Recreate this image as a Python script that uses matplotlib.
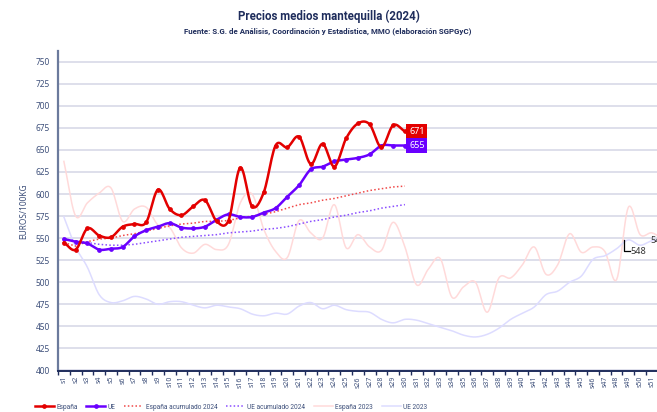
import numpy as np
import matplotlib
matplotlib.use('Agg')
import matplotlib.pyplot as plt
from matplotlib.lines import Line2D

plt.rcParams['font.family'] = ['Noto Sans', 'DejaVu Sans']

# DATA
weeks = ['s%d' % i for i in range(1, 53)]

espana_2024 = [545, 537, 561, 553, 551, 563, 566, 568, 605, 583, 576, 586, 593, 569, 570,
               630, 586, 602, 655, 653, 665, 634, 657, 631, 663, 680, 679, 653, 678, 671]
ue_2024 = [549, 546, 544, 537, 538, 540, 552, 559, 563, 567, 562, 561, 563, 571, 577,
           574, 574, 579, 584, 597, 610, 628, 631, 637, 639, 641, 645, 655, 655, 655]
espana_acum_2024 = [545, 541, 546, 549, 550, 553, 555, 558, 561, 564, 566, 567, 569, 569, 570,
                    573, 575, 577, 580, 584, 588, 590, 593, 595, 598, 601, 604, 606, 608, 609]
ue_acum_2024 = [549, 547, 545, 543, 542, 542, 543, 545, 547, 549, 551, 552, 553, 554, 556,
                557, 558, 560, 561, 563, 566, 569, 571, 574, 576, 579, 581, 584, 586, 588]
espana_2023 = [637, 575, 590, 601, 607, 569, 583, 585, 565, 562, 539, 533, 543, 537, 543,
               590, 600, 560, 535, 528, 570, 556, 550, 588, 539, 554, 540, 536, 568, 540,
               497, 515, 527, 483, 495, 500, 466, 505, 505, 520, 540, 509, 520, 555, 534,
               540, 535, 503, 585, 554, 556, 548]
ue_2023 = [574, 540, 517, 486, 477, 479, 484, 481, 475, 478, 478, 474, 471, 474, 472,
           470, 464, 462, 465, 464, 473, 477, 470, 474, 469, 467, 466, 458, 454, 458,
           457, 453, 449, 445, 440, 438, 441, 448, 458, 465, 472, 486, 490, 500, 507,
           526, 530, 538, 548, 542, 547, 548]

yticks = list(range(400, 751, 25))

RED = '#e30000'
PURPLE = '#6a00ff'
NAVY = '#1f2d5c'
TXT = '#3d4f7a'
TITLE_FONT = ['Roboto', 'DejaVu Sans']


def smooth(y, n=12):
    # catmull-rom curve for drawing (excel "smoothed line" look)
    x = np.arange(1, len(y) + 1, dtype=float)
    y = np.asarray(y, dtype=float)
    px = np.concatenate([[2 * x[0] - x[1]], x, [2 * x[-1] - x[-2]]])
    py = np.concatenate([[2 * y[0] - y[1]], y, [2 * y[-1] - y[-2]]])
    xs, ys = [], []
    t = np.linspace(0, 1, n, endpoint=False)
    for i in range(1, len(px) - 2):
        for p, out in ((px, xs), (py, ys)):
            p0, p1, p2, p3 = p[i - 1], p[i], p[i + 1], p[i + 2]
            out.extend(0.5 * (2 * p1 + (-p0 + p2) * t + (2 * p0 - 5 * p1 + 4 * p2 - p3) * t ** 2
                              + (-p0 + 3 * p1 - 3 * p2 + p3) * t ** 3))
    xs.append(x[-1])
    ys.append(y[-1])
    return np.array(xs), np.array(ys)


fig = plt.figure(figsize=(6.57, 4.12), dpi=100)
ax = fig.add_axes([58 / 657, 41.5 / 412, 611.5 / 657, 319.4 / 412])

# 2023 background lines
x, y = smooth(espana_2023)
ax.plot(x, y, color='#ffdada', lw=1.1, zorder=2)
x, y = smooth(ue_2023)
ax.plot(x, y, color='#dddcff', lw=1.1, zorder=2)

# accumulated averages
n24 = len(espana_2024)
xw = np.arange(1, n24 + 1)
ax.plot(xw, espana_acum_2024, color='#f04848', lw=1.1, ls=(0, (1, 1.5)), zorder=3)
ax.plot(xw, ue_acum_2024, color='#8a4dff', lw=1.1, ls=(0, (1, 1.5)), zorder=3)

# weekly 2024
x, y = smooth(ue_2024)
ax.plot(x, y, color=PURPLE, lw=1.8, zorder=4)
ax.plot(xw, ue_2024, ls='none', marker='o', ms=2.4, color=PURPLE, zorder=5)
x, y = smooth(espana_2024)
ax.plot(x, y, color=RED, lw=1.8, zorder=6)
ax.plot(xw, espana_2024, ls='none', marker='o', ms=2.4, color=RED, zorder=7)

# last value boxes
ax.text(n24 + 0.35, espana_2024[-1], str(espana_2024[-1]), color='white', fontsize=6.5,
        fontweight='bold', va='center', ha='left', zorder=8,
        bbox=dict(boxstyle='square,pad=0.3', fc=RED, ec='none'))
ax.text(n24 + 0.35, ue_2024[-1], str(ue_2024[-1]), color='white', fontsize=6.5,
        fontweight='bold', va='center', ha='left', zorder=8,
        bbox=dict(boxstyle='square,pad=0.3', fc=PURPLE, ec='none'))

# 2023 labels at the right
ax.plot([48.65, 48.65, 49.1], [ue_2023[48], 535, 535], color='black', lw=0.9, zorder=8)
ax.text(49.2, 535, str(ue_2023[48]), fontsize=6.5, color='#333333', va='center', ha='left')
ax.text(50.85, 547, str(ue_2023[-1]), fontsize=6.5, color='#333333', va='center', ha='left')

# axes styling
ax.set_xlim(0.5, 52.5)
ax.set_ylim(400, 762)
ax.set_yticks(yticks)
ax.set_yticklabels([str(v) for v in yticks], fontsize=6, color=TXT)
ax.grid(axis='y', color='#d4d6e6', lw=1.1, zorder=0)
ax.set_axisbelow(True)

ax.set_xticks(np.arange(1, 53))
ax.set_xticklabels(weeks[:51] + [''], rotation=90, fontsize=5, color=TXT)
ax.set_xticks(np.arange(0.5, 53, 1), minor=True)
ax.tick_params(axis='x', which='major', length=0, pad=4)
ax.tick_params(axis='x', which='minor', length=3, color=NAVY, width=1)
ax.tick_params(axis='y', length=0, pad=6)

for s in ['top', 'right']:
    ax.spines[s].set_visible(False)
ax.spines['left'].set_color('#6b7a9c')
ax.spines['left'].set_linewidth(1.6)
ax.spines['bottom'].set_color(NAVY)
ax.spines['bottom'].set_linewidth(1.4)

ax.set_ylabel('EUROS/100KG', fontsize=6, color=TXT, labelpad=5)

# titles
fig.text(329 / 657, 1 - 16 / 412, 'Precios medios mantequilla (2024)', ha='center', va='center',
         fontsize=8.3, fontweight='bold', color=NAVY, family=TITLE_FONT)
fig.text(328 / 657, 1 - 31 / 412,
         'Fuente: S.G. de Análisis, Coordinación y Estadística, MMO (elaboración SGPGyC)',
         ha='center', va='center', fontsize=5.7, fontweight='bold', color=NAVY, family=TITLE_FONT)

# legend
handles = [
    Line2D([], [], color=RED, lw=1.8, marker='o', ms=2.4),
    Line2D([], [], color=PURPLE, lw=1.8, marker='o', ms=2.4),
    Line2D([], [], color='#f04848', lw=1.1, ls=(0, (1, 1.5))),
    Line2D([], [], color='#8a4dff', lw=1.1, ls=(0, (1, 1.5))),
    Line2D([], [], color='#ffdada', lw=1.1),
    Line2D([], [], color='#dddcff', lw=1.1),
]
labels = ['España', 'UE', 'España acumulado 2024', 'UE acumulado 2024', 'España 2023', 'UE 2023']
fig.legend(handles, labels, loc='center', bbox_to_anchor=(231 / 657, 1 - 407 / 412), ncol=6,
           frameon=False, prop={'size': 4.7, 'family': TITLE_FONT}, handlelength=2.9,
           columnspacing=1.3, handletextpad=0.4, labelcolor=TXT)

fig.savefig('out.png', dpi=100)
